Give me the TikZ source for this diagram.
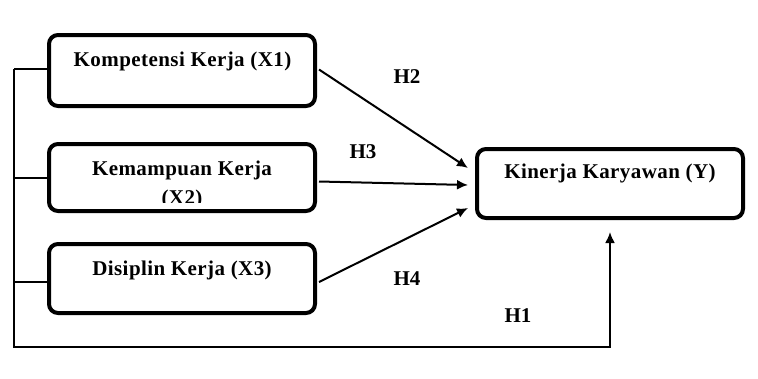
\documentclass[tikz,border=0pt]{standalone}
\usepackage{fontspec}
\setmainfont{Liberation Serif}
\usetikzlibrary{arrows.meta}
\begin{document}
\begin{tikzpicture}[x=1pt,y=-1pt,
  box/.style={draw, line width=4pt, rounded corners=9pt, minimum width=266pt, inner sep=0pt},
  hl/.style={font=\bfseries\fontsize{21}{23}\selectfont, inner sep=0pt, anchor=base},
  txt/.style={font=\bfseries\fontsize{21}{23}\selectfont\addfontfeatures{LetterSpace=2}, inner sep=0pt, anchor=base},
  conn/.style={line width=2pt},
  arr/.style={conn, -{Latex[length=11pt,width=10pt]}}]
\useasboundingbox (0,0) rectangle (758,378);
% boxes
\node[box, minimum height=71pt] (x1) at (182,70.5) {};
\node[box, minimum height=67pt] (x2) at (182,177.5) {};
\node[box, minimum height=69pt] (x3) at (182,278.5) {};
\node[box, minimum height=69pt, minimum width=266pt] (ky) at (610,183.5) {};
% box texts
\node[txt] (t1) at (182.5,66) {Kompetensi Kerja (X1)};
\node[txt] (t2) at (182,175) {Kemampuan Kerja};
\begin{scope}
  \clip (40,180) rectangle (320,202);
  \node[txt] (t2b) at (182,204) {(X2)};
\end{scope}
\node[txt] (t3) at (182,275) {Disiplin Kerja (X3)};
\node[txt] (ty) at (610,178) {Kinerja Karyawan (Y)};
% hypothesis labels
\node[hl] (h2) at (407,83) {H2};
\node[hl] (h3) at (363,158) {H3};
\node[hl] (h4) at (407,285) {H4};
\node[hl] (h1) at (518,322) {H1};
% left bracket and H1 arrow
\coordinate (c1) at (14,69);
\coordinate (c2) at (14,178);
\coordinate (c3) at (14,282);
\coordinate (c4) at (14,347);
\coordinate (yb) at ([yshift=-12pt]ky.south);
\draw[conn] (x1.west |- c1) -- (c1);
\draw[conn] (x2.west |- c2) -- (c2);
\draw[conn] (x3.west |- c3) -- (c3);
\draw[arr] (c1) -- (c4) -| (yb);
% direct arrows
\draw[arr] ([xshift=2pt,yshift=1pt]x1.east) -- ([xshift=-7pt,yshift=15.5pt]ky.west);
\draw[arr] ([xshift=2pt,yshift=-4pt]x2.east) -- ([xshift=-7pt,yshift=-1.5pt]ky.west);
\draw[arr] ([xshift=2pt,yshift=-3.5pt]x3.east) -- ([xshift=-7pt,yshift=-24.5pt]ky.west);
\end{tikzpicture}
\end{document}
